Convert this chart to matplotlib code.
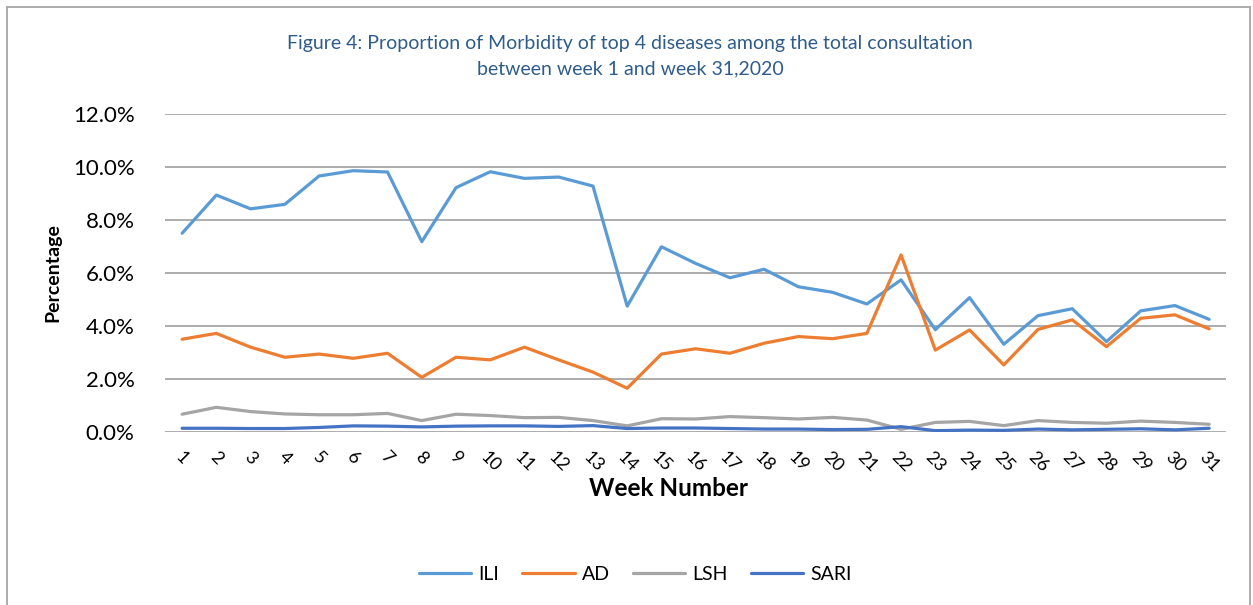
import numpy as np
import matplotlib.pyplot as plt
from matplotlib.patches import Rectangle
from matplotlib.ticker import FuncFormatter

plt.rcParams['font.family'] = ['Lato', 'DejaVu Sans']

weeks = list(range(1, 32))
ili = [7.50, 8.94, 8.42, 8.59, 9.66, 9.86, 9.81, 7.18, 9.22, 9.82, 9.57,
       9.62, 9.28, 4.75, 6.99, 6.36, 5.82, 6.14, 5.48, 5.27, 4.83, 5.74,
       3.86, 5.07, 3.31, 4.39, 4.65, 3.41, 4.57, 4.77, 4.25]
ad = [3.50, 3.72, 3.20, 2.82, 2.94, 2.78, 2.97, 2.06, 2.82, 2.72, 3.20,
      2.72, 2.26, 1.65, 2.94, 3.14, 2.97, 3.35, 3.60, 3.52, 3.72, 6.68,
      3.09, 3.85, 2.53, 3.87, 4.23, 3.22, 4.29, 4.42, 3.89]
lsh = [0.67, 0.93, 0.77, 0.68, 0.65, 0.65, 0.70, 0.43, 0.67, 0.62, 0.54,
       0.55, 0.43, 0.23, 0.50, 0.49, 0.58, 0.54, 0.49, 0.55, 0.45, 0.10,
       0.36, 0.40, 0.24, 0.43, 0.36, 0.33, 0.41, 0.36, 0.29]
sari = [0.14, 0.14, 0.13, 0.13, 0.17, 0.23, 0.22, 0.19, 0.22, 0.23, 0.23,
        0.21, 0.24, 0.13, 0.15, 0.15, 0.13, 0.11, 0.11, 0.09, 0.10, 0.20,
        0.05, 0.07, 0.06, 0.11, 0.08, 0.10, 0.12, 0.08, 0.14]

series = [
    (ili, 'ILI', '#5B9BD5'),
    (ad, 'AD', '#ED7D31'),
    (lsh, 'LSH', '#A5A5A5'),
    (sari, 'SARI', '#4472C4'),
]

fig = plt.figure(figsize=(12.53, 6.05), dpi=100)
ax = fig.add_axes([0.1317, 0.286, 0.847, 0.5256])

for vals, label, color in series:
    ax.plot(weeks, vals, color=color, lw=2.3, label=label, solid_capstyle='round')

ax.set_xlim(0.5, 31.5)
ax.set_ylim(0, 12)
ax.set_yticks(np.arange(0, 12.1, 2))
ax.yaxis.set_major_formatter(FuncFormatter(lambda v, p: f'{v:.1f}%'))
ax.set_xticks(weeks)
ax.set_xticklabels([str(w) for w in weeks], rotation=-45, ha='center', va='top',
                   fontsize=13)
ax.tick_params(axis='y', labelsize=16, length=0, pad=22)
ax.tick_params(axis='x', length=0, pad=12)
ax.grid(axis='y', color='#A6A6A6', lw=1.3)
ax.set_axisbelow(True)
for s in ax.spines.values():
    s.set_visible(False)

ax.set_ylabel('Percentage', fontsize=14, fontweight='bold', labelpad=8)
ax.set_xlabel('Week Number', fontsize=17.5, fontweight='bold')
ax.xaxis.set_label_coords(0.474, -0.143)

fig.text(0.503, 0.907, 'Figure 4: Proportion of Morbidity of top 4 diseases among the total consultation\nbetween week 1 and week 31,2020',
         ha='center', va='center', color='#2F5C8A', fontsize=14, linespacing=1.55)

fig.legend(loc='center', bbox_to_anchor=(0.507, 0.05), ncol=4, frameon=False,
           fontsize=14, handlelength=2.7, columnspacing=1.2, handletextpad=0.35)

fig.patches.append(Rectangle((7 / 1253, -0.01), 1243 / 1253, 1 - 7 / 605 + 0.01,
                             transform=fig.transFigure, fill=False,
                             edgecolor='#A6A6A6', lw=1.3))

fig.savefig('out.png', dpi=100)
